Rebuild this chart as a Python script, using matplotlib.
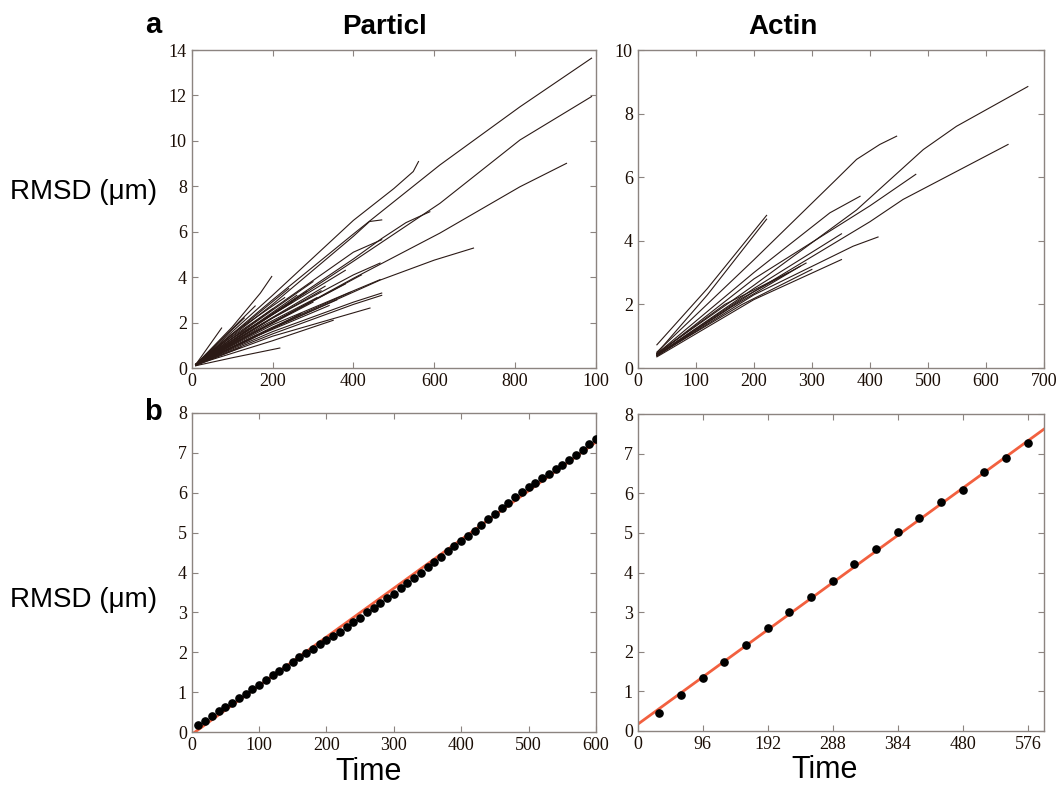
import numpy as np
import matplotlib.pyplot as plt

# ---- top-left: particle RMSD traces (time, RMSD) ----
particle_traces = [
    ([10, 200, 400, 614, 812, 989], [0.15, 3.0, 5.9, 8.94, 11.5, 13.64]),
    ([10, 200, 400, 500, 548, 561], [0.15, 3.2, 6.5, 7.9, 8.65, 9.09]),
    ([10, 200, 400, 614, 812, 989], [0.15, 2.35, 4.7, 7.25, 10.04, 11.95]),
    ([10, 200, 400, 614, 812, 927], [0.15, 2.0, 3.95, 5.94, 7.98, 9.01]),
    ([10, 200, 466, 600, 697], [0.15, 1.75, 3.87, 4.75, 5.28]),
    ([10, 200, 400, 470, 530, 589], [0.15, 2.4, 4.8, 5.7, 6.4, 6.88]),
    ([10, 200, 400, 440, 470], [0.15, 2.8, 5.8, 6.45, 6.52]),
    ([10, 100, 170, 198], [0.15, 1.8, 3.3, 4.03]),
    ([10, 100, 218], [0.1, 0.45, 0.88]),
    ([10, 200, 441], [0.15, 1.4, 2.64]),
    ([10, 200, 400, 470], [0.15, 1.6, 2.9, 3.3]),
    ([10, 200, 400, 470], [0.15, 1.5, 2.8, 3.2]),
    ([10, 200, 400, 466], [0.15, 1.9, 3.4, 3.89]),
    ([10, 200, 400, 470], [0.15, 2.6, 5.1, 5.65]),
    ([10, 200, 400, 466], [0.15, 2.2, 4.1, 4.62]),
    ([10, 200, 392], [0.15, 1.8, 3.33]),
    ([10, 74], [0.15, 1.76]),
    ([10, 157], [0.15, 2.73]),
    ([10, 150, 284], [0.15, 1.8, 3.36]),
    ([10, 200, 359], [0.15, 1.75, 3.0]),
    ([10, 150, 300], [0.15, 1.5, 2.9]),
    ([10, 200, 420], [0.15, 2.0, 4.1]),
    ([10, 200, 350], [0.15, 1.2, 2.1]),
    ([10, 100, 250], [0.15, 1.3, 2.9]),
    ([10, 100, 180], [0.15, 1.1, 2.0]),
    ([10, 150, 380], [0.15, 1.55, 3.7]),
    ([10, 200, 320], [0.15, 2.2, 3.4]),
    ([10, 120], [0.1, 0.9]),
    ([10, 100, 230], [0.15, 1.5, 3.1]),
    ([10, 200, 300], [0.15, 2.55, 3.8]),
    ([10, 120, 260], [0.15, 1.45, 3.2]),
    ([10, 150, 330], [0.15, 1.7, 3.6]),
    ([10, 180, 310], [0.15, 1.9, 3.1]),
    ([10, 140, 270], [0.15, 1.2, 2.4]),
    ([10, 160, 340], [0.15, 1.4, 2.75]),
    ([10, 90, 200], [0.15, 1.25, 2.6]),
    ([10, 130, 240], [0.15, 1.9, 3.5]),
    ([10, 110, 160], [0.15, 1.0, 1.45]),
    ([10, 200, 380], [0.15, 2.35, 4.3]),
    ([10, 60, 130], [0.15, 1.0, 2.2]),
]

# ---- top-right: actin RMSD traces ----
actin_traces = [
    ([33, 120, 222], [0.73, 2.5, 4.8]),
    ([33, 120, 222], [0.47, 2.3, 4.68]),
    ([33, 200, 377, 492, 549, 672], [0.45, 2.6, 4.97, 6.87, 7.6, 8.85]),
    ([33, 200, 400, 457, 638], [0.4, 2.4, 4.6, 5.3, 7.03]),
    ([33, 200, 400, 479], [0.42, 2.8, 5.1, 6.09]),
    ([33, 200, 331, 383], [0.45, 3.0, 4.88, 5.4]),
    ([33, 200, 351], [0.4, 2.5, 4.22]),
    ([33, 200, 371, 414], [0.38, 2.3, 3.83, 4.12]),
    ([33, 200, 351], [0.35, 2.15, 3.41]),
    ([33, 200, 342, 377, 417, 446], [0.5, 3.4, 5.93, 6.56, 7.03, 7.29]),
    ([33, 180, 290], [0.42, 2.2, 3.3]),
    ([33, 180, 300], [0.4, 2.0, 3.1]),
    ([33, 150, 260], [0.45, 2.0, 3.0]),
    ([33, 160, 280], [0.38, 1.9, 3.2]),
]

# ---- bottom-left: mean particle RMSD ----
part_t = [10, 20, 30, 40, 50, 60, 70, 80, 90, 100,
          110, 120, 130, 140, 150, 160, 170, 180, 190, 200,
          210, 220, 230, 240, 250, 260, 270, 280, 290, 300,
          310, 320, 330, 340, 350, 360, 370, 380, 390, 400,
          410, 420, 430, 440, 450, 460, 470, 480, 490, 500,
          510, 520, 530, 540, 550, 560, 570, 580, 590, 600]
part_rmsd = [0.17, 0.28, 0.40, 0.52, 0.63, 0.74, 0.86, 0.96, 1.08, 1.18,
             1.30, 1.42, 1.53, 1.64, 1.75, 1.87, 1.98, 2.09, 2.20, 2.30,
             2.40, 2.52, 2.63, 2.75, 2.87, 3.00, 3.11, 3.23, 3.35, 3.47,
             3.60, 3.73, 3.86, 3.99, 4.13, 4.26, 4.40, 4.53, 4.66, 4.79,
             4.92, 5.05, 5.19, 5.33, 5.47, 5.61, 5.75, 5.90, 6.03, 6.15,
             6.24, 6.37, 6.48, 6.59, 6.70, 6.82, 6.95, 7.08, 7.21, 7.34]
part_fit_t = [5, 600]
part_fit_y = [0.0, 7.27]

# ---- bottom-right: mean actin RMSD ----
actin_t = [32, 64, 96, 128, 160, 192, 224, 256, 288,
           320, 352, 384, 416, 448, 480, 512, 544, 576]
actin_rmsd = [0.46, 0.91, 1.33, 1.75, 2.18, 2.61, 3.00, 3.37, 3.78,
              4.21, 4.59, 5.01, 5.37, 5.77, 6.08, 6.53, 6.90, 7.28]
actin_fit_t = [0, 600]
actin_fit_y = [0.17, 7.62]

trace_col = "#2b1a16"
fit_col = "#f2603f"
spine_col = "#8c8480"
tick_font = "Liberation Serif"
sans = "Liberation Sans"

fig = plt.figure(figsize=(10.59, 7.85), dpi=100)

def style(ax):
    for s in ax.spines.values():
        s.set_color(spine_col)
        s.set_linewidth(1.0)
    ax.tick_params(direction="in", top=True, right=True, length=4,
                   color=spine_col, labelsize=13, labelcolor="#1a0d05")
    for lab in ax.get_xticklabels() + ax.get_yticklabels():
        lab.set_fontfamily(tick_font)

ax1 = fig.add_axes([0.181, 0.5312, 0.3818, 0.4051])
for t, r in particle_traces:
    ax1.plot(t, r, color=trace_col, lw=0.8)
ax1.set_xlim(0, 1000)
ax1.set_ylim(0, 14)
ax1.set_xticks([0, 200, 400, 600, 800, 1000])
ax1.set_xticklabels(["0", "200", "400", "600", "800", "100"])
ax1.set_yticks(range(0, 15, 2))
style(ax1)

ax2 = fig.add_axes([0.6022, 0.5312, 0.3837, 0.4051])
for t, r in actin_traces:
    ax2.plot(t, r, color=trace_col, lw=0.8)
ax2.set_xlim(0, 700)
ax2.set_ylim(0, 10)
ax2.set_xticks(range(0, 701, 100))
ax2.set_yticks(range(0, 11, 2))
style(ax2)

ax3 = fig.add_axes([0.181, 0.0675, 0.3818, 0.4064])
ax3.plot(part_fit_t, part_fit_y, color=fit_col, lw=2)
ax3.plot(part_t, part_rmsd, "o", color="black", ms=5.2, zorder=3)
ax3.set_xlim(0, 600)
ax3.set_ylim(0, 8)
ax3.set_xticks(range(0, 601, 100))
ax3.set_yticks(range(0, 9))
style(ax3)

ax4 = fig.add_axes([0.6022, 0.0688, 0.3837, 0.4038])
ax4.plot(actin_fit_t, actin_fit_y, color=fit_col, lw=2)
ax4.plot(actin_t, actin_rmsd, "o", color="black", ms=5.2, zorder=3)
ax4.set_xlim(0, 600)
ax4.set_ylim(0, 8)
ax4.set_xticks(range(0, 577, 96))
ax4.set_yticks(range(0, 9))
style(ax4)

# panel letters, titles, labels
fig.text(0.1445, 0.968, "a", fontsize=21, fontweight="bold", family=sans, ha="center", va="center")
fig.text(0.1445, 0.475, "b", fontsize=21, fontweight="bold", family=sans, ha="center", va="center")
fig.text(0.3635, 0.966, "Particl", fontsize=20, fontweight="bold", family=sans, ha="center", va="center")
fig.text(0.7394, 0.966, "Actin", fontsize=20, fontweight="bold", family=sans, ha="center", va="center")
fig.text(0.009, 0.755, "RMSD (\u03bcm)", fontsize=20, family=sans, ha="left", va="center")
fig.text(0.009, 0.236, "RMSD (\u03bcm)", fontsize=20, family=sans, ha="left", va="center")
fig.text(0.348, 0.017, "Time", fontsize=22, family=sans, ha="center", va="center")
fig.text(0.779, 0.019, "Time", fontsize=22, family=sans, ha="center", va="center")

fig.savefig("out.png", dpi=100)
